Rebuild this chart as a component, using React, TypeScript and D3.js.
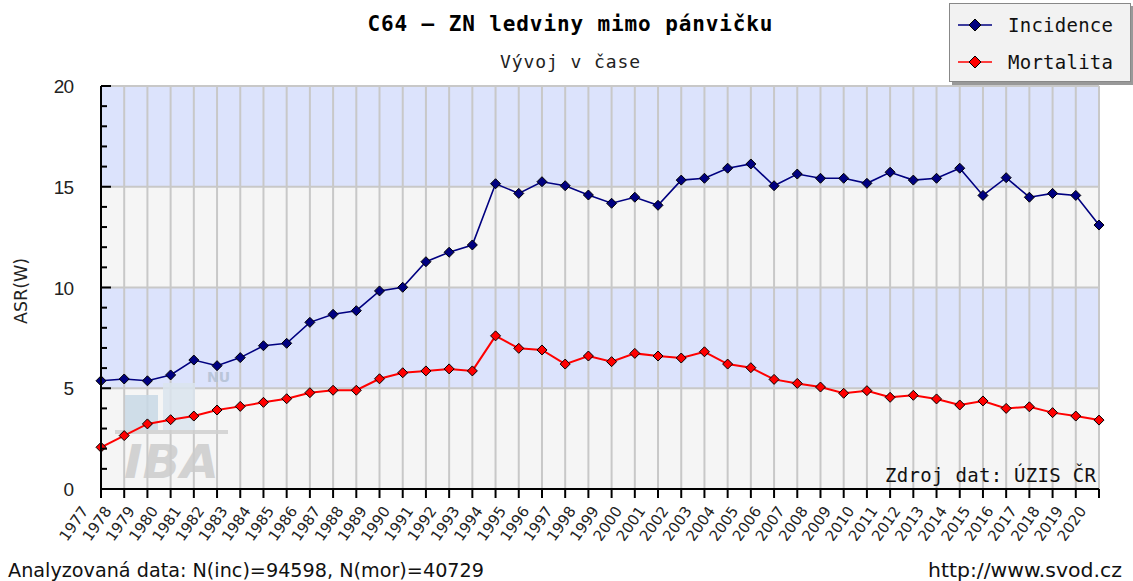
import React from "react";
import * as d3 from "d3";

const years = [
  "1977","1978","1979","1980","1981","1982","1983","1984","1985","1986","1987","1988","1989","1990","1991",
  "1992","1993","1994","1995","1996","1997","1998","1999","2000","2001","2002","2003","2004","2005","2006",
  "2007","2008","2009","2010","2011","2012","2013","2014","2015","2016","2017","2018","2019","2020",
];
const incidence = [
  5.37, 5.46, 5.37, 5.66, 6.4, 6.12, 6.52, 7.11, 7.23, 8.27, 8.67, 8.85, 9.83, 10.01, 11.28, 11.75, 12.11,
  15.15, 14.67, 15.25, 15.05, 14.59, 14.18, 14.48, 14.08, 15.33, 15.42, 15.92, 16.13, 15.05, 15.63, 15.42,
  15.42, 15.17, 15.72, 15.33, 15.42, 15.92, 14.57, 15.45, 14.48, 14.67, 14.57, 13.1,
];
const mortality = [
  2.07, 2.65, 3.23, 3.44, 3.62, 3.92, 4.1, 4.3, 4.48, 4.78, 4.9, 4.9, 5.47, 5.77, 5.86, 5.96, 5.86,
  7.6, 6.98, 6.9, 6.2, 6.6, 6.32, 6.73, 6.6, 6.5, 6.81, 6.2, 6.02, 5.44, 5.24, 5.06, 4.75, 4.88, 4.55,
  4.65, 4.47, 4.17, 4.37, 4.0, 4.08, 3.79, 3.62, 3.42,
];
const yTicks = [0, 5, 10, 15, 20];
const yMinorTicks = [1, 2, 3, 4, 6, 7, 8, 9, 11, 12, 13, 14, 16, 17, 18, 19];
const bands = [
  { from: 0, to: 5, color: "#f5f5f5" },
  { from: 5, to: 10, color: "#dce3fc" },
  { from: 10, to: 15, color: "#f5f5f5" },
  { from: 15, to: 20, color: "#dce3fc" },
];
const seriesNames = ["Incidence", "Mortalita"];
const seriesColors = ["#000080", "#ff0000"];

const W = 1133;
const H = 581;
const L = 101, R = 1099, T = 86, B = 489;

const x = d3.scalePoint<string>().domain(years).range([L, R]);
const y = d3.scaleLinear().domain([0, 20]).range([B, T]);

const lineGen = d3
  .line<number>()
  .x((_, i) => x(years[i]) as number)
  .y((d) => y(d));

function Diamond({ cx, cy, fill, r = 5 }: { cx: number; cy: number; fill: string; r?: number }) {
  return (
    <path
      d={`M${cx},${cy - r}L${cx + r},${cy}L${cx},${cy + r}L${cx - r},${cy}Z`}
      fill={fill}
      stroke="#000"
      strokeWidth={1}
    />
  );
}

export default function App() {
  const mono = "'DejaVu Sans Mono', monospace";
  const sans = "'DejaVu Sans', sans-serif";
  return (
    <svg
      width={W}
      height={H}
      style={{ position: "absolute", left: 0, top: 0, background: "#fff" }}
      xmlns="http://www.w3.org/2000/svg"
    >
      <rect x={0} y={0} width={W} height={H} fill="#fff" />
      {bands.map((b, i) => (
        <rect key={i} x={L} y={y(b.to)} width={R - L} height={y(b.from) - y(b.to)} fill={b.color} />
      ))}
      {years.map((yr) => (
        <line key={yr} x1={x(yr)} x2={x(yr)} y1={T} y2={B} stroke="#c8c8c8" strokeWidth={2} />
      ))}
      {yTicks.slice(1).map((t) => (
        <line key={t} x1={L} x2={R} y1={y(t)} y2={y(t)} stroke="#c8c8c8" strokeWidth={2} />
      ))}

      {/* watermark */}
      <g opacity={0.85}>
        <rect x={125} y={395} width={33} height={37} fill="#c9d9e6" />
        <rect x={163} y={383} width={32} height={49} fill="#dbe5ee" />
        <rect x={115} y={430} width={113} height={4} fill="#d0d0d0" />
        <text x={124} y={478} fontFamily={sans} fontWeight="bold" fontStyle="italic" fontSize={46} fill="#cccccc" textLength={95} lengthAdjust="spacingAndGlyphs">
          IBA
        </text>
        <text x={207} y={382} fontFamily={sans} fontWeight="bold" fontSize={14} fill="#b4c0d4">
          NU
        </text>
      </g>

      <path d={lineGen(mortality) || ""} fill="none" stroke={seriesColors[1]} strokeWidth={2} />
      <path d={lineGen(incidence) || ""} fill="none" stroke={seriesColors[0]} strokeWidth={1.6} />
      {mortality.map((v, i) => (
        <Diamond key={"m" + i} cx={x(years[i]) as number} cy={y(v)} fill={seriesColors[1]} />
      ))}
      {incidence.map((v, i) => (
        <Diamond key={"i" + i} cx={x(years[i]) as number} cy={y(v)} fill={seriesColors[0]} />
      ))}

      {/* axes */}
      <line x1={L} x2={L} y1={T} y2={B} stroke="#000" strokeWidth={2} />
      <line x1={L} x2={R} y1={B} y2={B} stroke="#000" strokeWidth={2} />
      {yTicks.map((t) => (
        <line key={"yt" + t} x1={L} x2={L + 10} y1={y(t)} y2={y(t)} stroke="#000" strokeWidth={2} />
      ))}
      {yMinorTicks.map((t) => (
        <line key={"ym" + t} x1={L} x2={L + 6} y1={y(t)} y2={y(t)} stroke="#000" strokeWidth={2} />
      ))}
      {years.map((yr) => (
        <line key={"xt" + yr} x1={x(yr)} x2={x(yr)} y1={B} y2={B + 9} stroke="#000" strokeWidth={2} />
      ))}
      {yTicks.map((t) => (
        <text
          key={"yl" + t}
          x={73}
          y={y(t) + 7}
          textAnchor="end"
          fontFamily="'Liberation Sans', Arial, sans-serif"
          fontSize={19}
          letterSpacing={-1}
          fill="#222"
        >
          {t}
        </text>
      ))}
      {years.map((yr) => {
        const px = (x(yr) as number) - 12;
        const py = 511;
        return (
          <text
            key={"xl" + yr}
            x={px}
            y={py}
            transform={`rotate(-55 ${px} ${py})`}
            textAnchor="end"
            fontFamily={sans}
            fontSize={15}
            fill="#222"
          >
            {yr}
          </text>
        );
      })}
      <text
        x={27}
        y={291}
        transform="rotate(-90 27 291)"
        textAnchor="middle"
        fontFamily={sans}
        fontSize={17}
        textLength={66}
        lengthAdjust="spacingAndGlyphs"
        fill="#222"
      >
        ASR(W)
      </text>

      {/* titles */}
      <text x={570} y={31} textAnchor="middle" fontFamily={mono} fontWeight="bold" fontSize={21} textLength={405} lengthAdjust="spacing" fill="#000">
        C64 – ZN ledviny mimo pánvičku
      </text>
      <text x={570} y={68} textAnchor="middle" fontFamily={mono} fontSize={18} textLength={140} lengthAdjust="spacing" fill="#222">
        Vývoj v čase
      </text>

      <text x={1096} y={482} textAnchor="end" fontFamily={mono} fontSize={19} textLength={211} lengthAdjust="spacing" fill="#111">
        Zdroj dat: ÚZIS ČR
      </text>

      {/* legend */}
      <rect x={952} y={6} width={181} height={79} fill="#999" />
      <rect x={949.5} y={3.5} width={181} height={78} fill="#f2f2f2" stroke="#888" strokeWidth={1} />
      {seriesNames.map((n, i) => {
        const ly = 25 + i * 37;
        return (
          <g key={n}>
            <line x1={958} x2={992} y1={ly} y2={ly} stroke={seriesColors[i]} strokeWidth={1.6} />
            <Diamond cx={975} cy={ly} fill={seriesColors[i]} r={6} />
            <text x={1008} y={ly + 7} fontFamily={mono} fontSize={19} textLength={105} lengthAdjust="spacing" fill="#111">
              {n}
            </text>
          </g>
        );
      })}

      {/* footer */}
      <text x={8} y={577} fontFamily={sans} fontSize={19} textLength={476} lengthAdjust="spacingAndGlyphs" fill="#111">
        Analyzovaná data: N(inc)=94598, N(mor)=40729
      </text>
      <text x={1122} y={577} textAnchor="end" fontFamily={sans} fontSize={19} textLength={194} lengthAdjust="spacingAndGlyphs" fill="#111">
        http://www.svod.cz
      </text>
    </svg>
  );
}
